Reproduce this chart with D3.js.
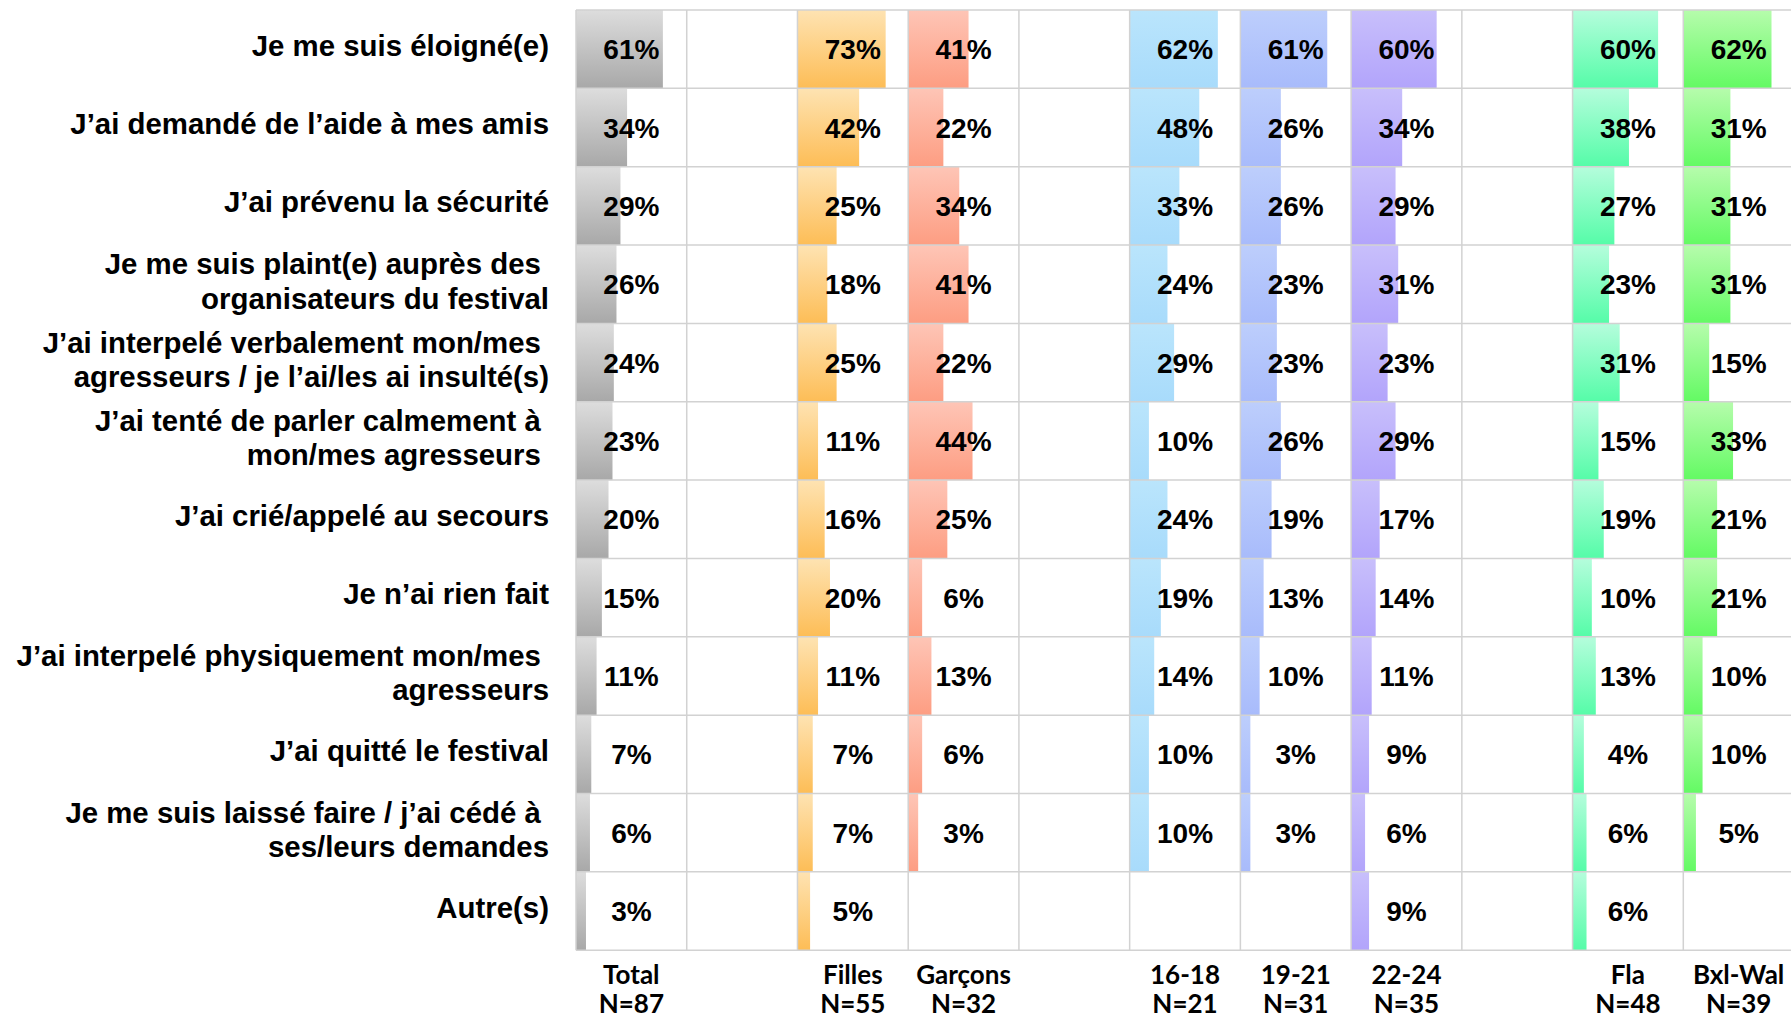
<!DOCTYPE html>
<html>
<head>
<meta charset="utf-8">
<script src="https://cdn.jsdelivr.net/npm/d3@7"></script>
<style>
  body { margin: 0; background: #fff; }
  svg text { white-space: pre; }
</style>
</head>
<body>
<div id="chart"></div>
<script>
// row labels ("|" marks a line break, trailing spaces kept as in the source)
var actions = [
  "Je me suis éloigné(e)",
  "J’ai demandé de l’aide à mes amis",
  "J’ai prévenu la sécurité",
  "Je me suis plaint(e) auprès des |organisateurs du festival",
  "J’ai interpelé verbalement mon/mes |agresseurs / je l’ai/les ai insulté(s)",
  "J’ai tenté de parler calmement à |mon/mes agresseurs ",
  "J’ai crié/appelé au secours",
  "Je n’ai rien fait",
  "J’ai interpelé physiquement mon/mes |agresseurs",
  "J’ai quitté le festival",
  "Je me suis laissé faire / j’ai cédé à |ses/leurs demandes",
  "Autre(s)"
];

// column slots, blank ones are empty spacer columns
var slots = ["Total", "", "Filles", "Garçons", " ", "16-18", "19-21", "22-24", "  ", "Fla", "Bxl-Wal"];
var groups = ["Total", "Filles", "Garçons", "16-18", "19-21", "22-24", "Fla", "Bxl-Wal"];
var sampleN = [87, 55, 32, 21, 31, 35, 48, 39];

var total   = [61, 34, 29, 26, 24, 23, 20, 15, 11, 7, 6, 3];
var filles  = [73, 42, 25, 18, 25, 11, 16, 20, 11, 7, 7, 5];
var garcons = [41, 22, 34, 41, 22, 44, 25, 6, 13, 6, 3, null];
var age1618 = [62, 48, 33, 24, 29, 10, 24, 19, 14, 10, 10, null];
var age1921 = [61, 26, 26, 23, 23, 26, 19, 13, 10, 3, 3, null];
var age2224 = [60, 34, 29, 31, 23, 29, 17, 14, 11, 9, 6, 9];
var fla     = [60, 38, 27, 23, 31, 15, 19, 10, 13, 4, 6, 6];
var bxlWal  = [62, 31, 31, 31, 15, 33, 21, 21, 10, 10, 5, null];

var series = [total, filles, garcons, age1618, age1921, age2224, fla, bxlWal];

// gradient colours per group: top, bottom
var colors = [
  ["#dddddd", "#a8a8a8"],
  ["#fee3b2", "#fdbd56"],
  ["#fec5b6", "#fd9d82"],
  ["#bae5fc", "#a8dbfb"],
  ["#bdcefc", "#a8bbfb"],
  ["#c8bffb", "#b2a4fb"],
  ["#b5fddc", "#55fca8"],
  ["#b6fcac", "#63fa63"]
];

var W = 1791, H = 1020;
var svg = d3.select("#chart").append("svg")
  .attr("width", W)
  .attr("height", H);

var x = d3.scaleBand().domain(slots).range([576, 576 + 11 * 110.73]);
var y = d3.scaleBand().domain(d3.range(actions.length)).range([10, 950.2]);

// Excel style data bars: short minimum length, capped at the longest
var barW = d3.scaleLinear().domain([0, 62]).range([6, 88.2]).clamp(true);

var defs = svg.append("defs");
groups.forEach(function(g, i) {
  var grad = defs.append("linearGradient")
    .attr("id", "grad" + i)
    .attr("x1", 0).attr("y1", 0).attr("x2", 0).attr("y2", 1);
  grad.append("stop").attr("offset", "0%").attr("stop-color", colors[i][0]);
  grad.append("stop").attr("offset", "100%").attr("stop-color", colors[i][1]);
});

// bars
groups.forEach(function(g, i) {
  var pts = series[i].map(function(v, r) { return {v: v, r: r}; })
    .filter(function(d) { return d.v != null; });
  svg.append("g").selectAll("rect")
    .data(pts)
    .enter().append("rect")
    .attr("x", x(g))
    .attr("y", function(d) { return y(d.r); })
    .attr("width", function(d) { return barW(d.v); })
    .attr("height", y.bandwidth())
    .attr("fill", "url(#grad" + i + ")");
});

// grid
var grid = svg.append("g")
  .attr("stroke", "#d2d2d2")
  .attr("stroke-width", 1.5);
d3.range(actions.length + 1).forEach(function(r) {
  var yy = r < actions.length ? y(r) : y.range()[1];
  grid.append("line")
    .attr("x1", x.range()[0]).attr("x2", W + 10)
    .attr("y1", yy).attr("y2", yy);
});
slots.forEach(function(s) {
  grid.append("line")
    .attr("x1", x(s)).attr("x2", x(s))
    .attr("y1", y.range()[0]).attr("y2", y.range()[1]);
});

// value labels
groups.forEach(function(g, i) {
  var pts = series[i].map(function(v, r) { return {v: v, r: r}; })
    .filter(function(d) { return d.v != null; });
  svg.append("g").selectAll("text")
    .data(pts)
    .enter().append("text")
    .attr("x", x(g) + x.bandwidth() / 2)
    .attr("y", function(d) { return y(d.r) + y.bandwidth() / 2 + 10; })
    .attr("text-anchor", "middle")
    .style("font-family", "'Liberation Sans', Arial, sans-serif")
    .style("font-weight", "bold")
    .style("font-size", "28px")
    .attr("fill", "#000")
    .text(function(d) { return d.v + "%"; });
});

// row labels
var rowLab = svg.append("g").selectAll("text")
  .data(actions)
  .enter().append("text")
  .attr("text-anchor", "end")
  .style("font-family", "'Liberation Sans', Arial, sans-serif")
  .style("font-weight", "bold")
  .style("font-size", "29.4px")
  .attr("fill", "#000");
rowLab.each(function(d, i) {
  var lines = d.split("|");
  var mid = y(i) + y.bandwidth() / 2;
  var el = d3.select(this);
  if (lines.length === 1) {
    el.append("tspan").attr("x", 549).attr("y", mid + 6.5).text(lines[0]);
  } else {
    lines.forEach(function(l, k) {
      el.append("tspan").attr("x", 549).attr("y", mid - 10 + k * 34.5).text(l);
    });
  }
});

// column headers
var head = svg.append("g").selectAll("text")
  .data(groups)
  .enter().append("text")
  .attr("text-anchor", "middle")
  .style("font-family", "Lato, 'Open Sans', sans-serif")
  .style("font-weight", "bold")
  .style("font-size", "26px")
  .attr("fill", "#000");
head.each(function(g, i) {
  var cx = x(g) + x.bandwidth() / 2;
  var el = d3.select(this);
  el.append("tspan").attr("x", cx).attr("y", 984).text(g);
  el.append("tspan").attr("x", cx).attr("y", 1013).text("N=" + sampleN[i]);
});
</script>
</body>
</html>
